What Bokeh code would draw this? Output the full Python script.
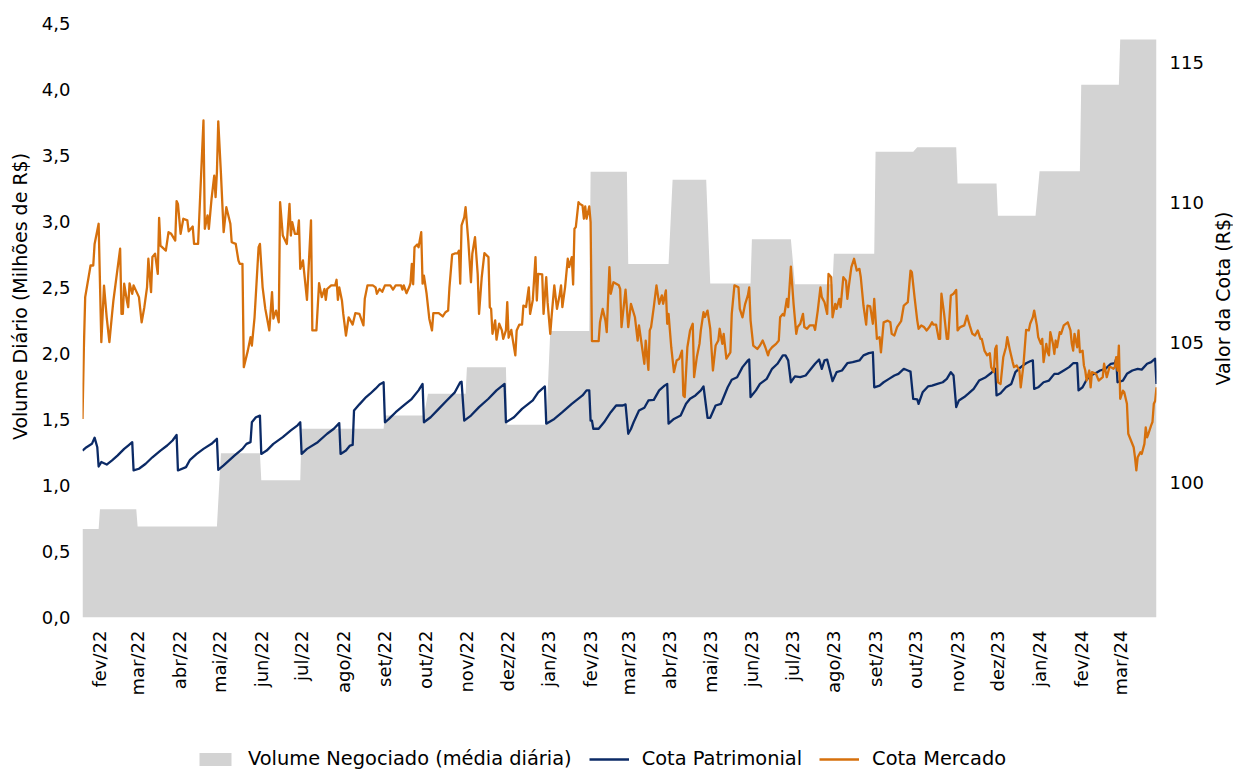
import math
import pandas as pd
from bokeh.plotting import figure
from bokeh.layouts import row, column
from bokeh.models import (Range1d, LinearAxis, FixedTicker, Legend, LegendItem,
                          ColumnDataSource, Label)
from bokeh.embed import file_html
from bokeh.resources import INLINE

FONT = "DejaVu Sans"
TXT = "#000000"
GRAY = "#d3d3d3"
NAVY = "#0b2a66"
ORANGE = "#d6700c"

# ---------------- data ----------------
# average daily traded volume per month (R$ millions)
vol_months = ["2022-01", "2022-02", "2022-03", "2022-04", "2022-05", "2022-06",
              "2022-07", "2022-08", "2022-09", "2022-10", "2022-11", "2022-12",
              "2023-01", "2023-02", "2023-03", "2023-04", "2023-05", "2023-06",
              "2023-07", "2023-08", "2023-09", "2023-10", "2023-11", "2023-12",
              "2024-01", "2024-02", "2024-03"]
vol_values = [0.67, 0.82, 0.69, 0.69, 1.245, 1.04,
              1.43, 1.43, 1.53, 1.695, 1.896, 1.46,
              2.17, 3.376, 2.677, 3.316, 2.53, 2.866,
              2.525, 2.755, 3.528, 3.563, 3.288, 3.043,
              3.381, 4.035, 4.379]

first_day = "2022-01-19"
last_day = "2024-03-28"

cota_patrimonial = [
    ("2022-01-19", 101.13), ("2022-01-22", 101.25), ("2022-01-26", 101.37), ("2022-01-28", 101.59),
    ("2022-01-30", 101.25), ("2022-01-31", 100.56), ("2022-02-02", 100.72), ("2022-02-06", 100.63),
    ("2022-02-10", 100.78), ("2022-02-14", 100.95), ("2022-02-19", 101.19), ("2022-02-22", 101.31),
    ("2022-02-25", 101.43), ("2022-02-26", 100.42), ("2022-03-02", 100.48), ("2022-03-07", 100.66),
    ("2022-03-12", 100.89), ("2022-03-18", 101.13), ("2022-03-23", 101.31), ("2022-03-27", 101.49),
    ("2022-03-30", 101.69), ("2022-03-31", 100.42), ("2022-04-06", 100.54), ("2022-04-09", 100.80),
    ("2022-04-14", 101.01), ("2022-04-19", 101.19), ("2022-04-25", 101.37), ("2022-04-29", 101.55),
    ("2022-04-30", 100.44), ("2022-05-04", 100.60), ("2022-05-12", 100.95), ("2022-05-18", 101.19),
    ("2022-05-21", 101.37), ("2022-05-24", 101.43), ("2022-05-25", 102.14), ("2022-05-28", 102.32),
    ("2022-05-31", 102.38), ("2022-06-01", 101.01), ("2022-06-05", 101.13), ("2022-06-10", 101.37),
    ("2022-06-17", 101.61), ("2022-06-23", 101.85), ("2022-06-28", 102.03), ("2022-06-30", 102.14),
    ("2022-07-01", 101.01), ("2022-07-05", 101.19), ("2022-07-13", 101.43), ("2022-07-20", 101.73),
    ("2022-07-25", 101.91), ("2022-07-29", 102.11), ("2022-07-30", 101.01), ("2022-08-03", 101.13),
    ("2022-08-06", 101.31), ("2022-08-08", 101.33), ("2022-08-09", 102.56), ("2022-08-13", 102.78),
    ("2022-08-18", 103.04), ("2022-08-21", 103.16), ("2022-08-25", 103.34), ("2022-08-28", 103.49),
    ("2022-08-31", 103.57), ("2022-09-01", 102.14), ("2022-09-04", 102.26), ("2022-09-09", 102.50),
    ("2022-09-15", 102.74), ("2022-09-21", 102.98), ("2022-09-26", 103.28), ("2022-09-29", 103.51),
    ("2022-09-30", 102.14), ("2022-10-05", 102.32), ("2022-10-11", 102.62), ("2022-10-17", 102.92),
    ("2022-10-23", 103.21), ("2022-10-27", 103.57), ("2022-10-28", 103.59), ("2022-10-30", 102.20),
    ("2022-11-04", 102.38), ("2022-11-10", 102.68), ("2022-11-17", 102.98), ("2022-11-23", 103.28),
    ("2022-11-29", 103.51), ("2022-11-30", 102.14), ("2022-12-06", 102.32), ("2022-12-12", 102.62),
    ("2022-12-20", 102.92), ("2022-12-24", 103.21), ("2022-12-29", 103.42), ("2022-12-30", 102.09),
    ("2023-01-05", 102.26), ("2023-01-11", 102.50), ("2023-01-18", 102.80), ("2023-01-26", 103.10),
    ("2023-01-29", 103.28), ("2023-01-31", 103.28), ("2023-02-01", 102.20), ("2023-02-02", 102.20),
    ("2023-02-03", 101.91), ("2023-02-07", 101.91), ("2023-02-11", 102.14), ("2023-02-16", 102.50),
    ("2023-02-20", 102.74), ("2023-02-25", 102.74), ("2023-02-27", 102.78), ("2023-03-01", 101.73),
    ("2023-03-03", 101.90), ("2023-03-05", 102.14), ("2023-03-09", 102.56), ("2023-03-13", 102.66),
    ("2023-03-16", 102.92), ("2023-03-20", 102.94), ("2023-03-24", 103.28), ("2023-03-28", 103.45),
    ("2023-03-30", 103.51), ("2023-03-31", 102.09), ("2023-04-04", 102.26), ("2023-04-09", 102.38),
    ("2023-04-13", 102.80), ("2023-04-16", 102.98), ("2023-04-20", 103.10), ("2023-04-24", 103.28),
    ("2023-04-26", 103.42), ("2023-04-29", 102.30), ("2023-05-01", 102.30), ("2023-05-05", 102.74),
    ("2023-05-09", 102.80), ("2023-05-14", 103.39), ("2023-05-17", 103.66), ("2023-05-21", 103.75),
    ("2023-05-25", 104.11), ("2023-05-29", 104.35), ("2023-05-30", 104.38), ("2023-05-31", 103.04),
    ("2023-06-04", 103.28), ("2023-06-07", 103.51), ("2023-06-12", 103.69), ("2023-06-16", 104.05),
    ("2023-06-20", 104.23), ("2023-06-24", 104.53), ("2023-06-26", 104.53), ("2023-06-28", 104.35),
    ("2023-06-30", 103.57), ("2023-07-03", 103.78), ("2023-07-07", 103.75), ("2023-07-11", 103.81),
    ("2023-07-15", 104.05), ("2023-07-18", 104.23), ("2023-07-21", 104.38), ("2023-07-23", 104.05),
    ("2023-07-25", 104.35), ("2023-07-27", 104.38), ("2023-07-31", 103.61), ("2023-08-03", 103.93),
    ("2023-08-07", 103.99), ("2023-08-11", 104.25), ("2023-08-15", 104.29), ("2023-08-20", 104.35),
    ("2023-08-23", 104.53), ("2023-08-27", 104.61), ("2023-08-30", 104.64), ("2023-08-31", 103.39),
    ("2023-09-04", 103.45), ("2023-09-07", 103.57), ("2023-09-11", 103.69), ("2023-09-15", 103.81),
    ("2023-09-18", 103.87), ("2023-09-22", 104.05), ("2023-09-25", 103.99), ("2023-09-27", 103.95),
    ("2023-09-29", 102.98), ("2023-10-02", 102.96), ("2023-10-03", 102.80), ("2023-10-06", 103.21),
    ("2023-10-10", 103.42), ("2023-10-13", 103.45), ("2023-10-17", 103.51), ("2023-10-21", 103.57),
    ("2023-10-24", 103.69), ("2023-10-27", 103.93), ("2023-10-29", 103.81), ("2023-10-31", 102.68),
    ("2023-11-02", 102.92), ("2023-11-06", 103.04), ("2023-11-09", 103.16), ("2023-11-13", 103.33),
    ("2023-11-17", 103.63), ("2023-11-22", 103.75), ("2023-11-26", 103.90), ("2023-11-29", 104.05),
    ("2023-11-30", 103.10), ("2023-12-03", 103.18), ("2023-12-07", 103.39), ("2023-12-11", 103.51),
    ("2023-12-14", 103.93), ("2023-12-18", 104.11), ("2023-12-22", 104.25), ("2023-12-25", 104.32),
    ("2023-12-27", 104.35), ("2023-12-28", 103.33), ("2023-12-31", 103.39), ("2024-01-04", 103.57),
    ("2024-01-08", 103.63), ("2024-01-12", 103.87), ("2024-01-15", 103.87), ("2024-01-19", 103.99),
    ("2024-01-23", 104.11), ("2024-01-26", 104.25), ("2024-01-29", 104.25), ("2024-01-30", 103.28),
    ("2024-02-02", 103.39), ("2024-02-05", 103.66), ("2024-02-08", 103.81), ("2024-02-12", 103.90),
    ("2024-02-15", 103.99), ("2024-02-19", 104.05), ("2024-02-23", 104.23), ("2024-02-26", 104.25),
    ("2024-02-27", 104.41), ("2024-02-28", 103.57), ("2024-03-03", 103.63), ("2024-03-06", 103.87),
    ("2024-03-10", 103.99), ("2024-03-14", 104.05), ("2024-03-17", 104.02), ("2024-03-21", 104.23),
    ("2024-03-24", 104.29), ("2024-03-27", 104.41), ("2024-03-28", 103.51),
]

cota_mercado = [
    ("2022-01-19", 102.26), ("2022-01-20", 104.76), ("2022-01-21", 106.61), ("2022-01-25", 107.74),
    ("2022-01-27", 107.74), ("2022-01-28", 108.51), ("2022-01-31", 109.23), ("2022-02-02", 105.00),
    ("2022-02-04", 107.02), ("2022-02-06", 105.89), ("2022-02-08", 105.00), ("2022-02-10", 106.01),
    ("2022-02-11", 106.49), ("2022-02-16", 108.34), ("2022-02-17", 106.01), ("2022-02-18", 106.01),
    ("2022-02-19", 107.09), ("2022-02-21", 106.49), ("2022-02-22", 106.25), ("2022-02-23", 107.10),
    ("2022-02-25", 106.73), ("2022-02-26", 107.03), ("2022-03-02", 106.61), ("2022-03-04", 105.71),
    ("2022-03-06", 106.25), ("2022-03-08", 106.96), ("2022-03-09", 107.98), ("2022-03-11", 106.79),
    ("2022-03-12", 108.04), ("2022-03-14", 108.16), ("2022-03-16", 107.44), ("2022-03-17", 109.44),
    ("2022-03-18", 108.45), ("2022-03-22", 108.27), ("2022-03-24", 108.93), ("2022-03-26", 108.87),
    ("2022-03-29", 108.63), ("2022-03-30", 110.04), ("2022-03-31", 109.94), ("2022-04-02", 108.87),
    ("2022-04-04", 109.41), ("2022-04-07", 109.35), ("2022-04-08", 108.96), ("2022-04-11", 109.13),
    ("2022-04-12", 108.51), ("2022-04-15", 108.51), ("2022-04-19", 112.92), ("2022-04-20", 109.05),
    ("2022-04-22", 109.53), ("2022-04-23", 109.05), ("2022-04-25", 110.12), ("2022-04-27", 110.95),
    ("2022-04-28", 110.18), ("2022-04-29", 111.07), ("2022-04-30", 112.89), ("2022-05-02", 111.01),
    ("2022-05-04", 108.93), ("2022-05-06", 109.82), ("2022-05-09", 109.23), ("2022-05-10", 108.57),
    ("2022-05-13", 108.51), ("2022-05-15", 107.92), ("2022-05-16", 107.80), ("2022-05-18", 107.80),
    ("2022-05-19", 104.11), ("2022-05-22", 104.70), ("2022-05-24", 105.18), ("2022-05-25", 104.88),
    ("2022-05-27", 105.89), ("2022-05-30", 108.39), ("2022-05-31", 108.51), ("2022-06-02", 106.96),
    ("2022-06-04", 106.19), ("2022-06-07", 105.42), ("2022-06-09", 106.79), ("2022-06-10", 105.84),
    ("2022-06-12", 106.13), ("2022-06-14", 105.71), ("2022-06-15", 110.00), ("2022-06-17", 108.81),
    ("2022-06-20", 108.51), ("2022-06-22", 109.94), ("2022-06-23", 108.81), ("2022-06-24", 109.29),
    ("2022-06-26", 108.87), ("2022-06-28", 108.87), ("2022-06-29", 109.35), ("2022-06-30", 107.62),
    ("2022-07-02", 107.92), ("2022-07-05", 106.51), ("2022-07-08", 109.35), ("2022-07-09", 105.42),
    ("2022-07-12", 105.42), ("2022-07-14", 107.11), ("2022-07-16", 106.61), ("2022-07-18", 106.90),
    ("2022-07-19", 106.51), ("2022-07-20", 106.90), ("2022-07-23", 107.03), ("2022-07-26", 107.03),
    ("2022-07-27", 107.23), ("2022-07-28", 106.51), ("2022-07-29", 106.96), ("2022-07-31", 106.49),
    ("2022-08-01", 106.01), ("2022-08-03", 105.24), ("2022-08-05", 105.89), ("2022-08-08", 105.63),
    ("2022-08-10", 106.04), ("2022-08-13", 106.01), ("2022-08-16", 105.60), ("2022-08-17", 106.55),
    ("2022-08-19", 107.03), ("2022-08-23", 107.03), ("2022-08-25", 106.96), ("2022-08-26", 106.73),
    ("2022-08-28", 106.90), ("2022-08-30", 106.80), ("2022-09-01", 107.03), ("2022-09-05", 107.03),
    ("2022-09-07", 106.88), ("2022-09-09", 107.03), ("2022-09-13", 107.03), ("2022-09-14", 106.88),
    ("2022-09-15", 107.03), ("2022-09-17", 106.75), ("2022-09-19", 106.96), ("2022-09-20", 107.11),
    ("2022-09-21", 107.80), ("2022-09-22", 107.07), ("2022-09-23", 108.39), ("2022-09-25", 108.49),
    ("2022-09-26", 108.39), ("2022-09-28", 108.93), ("2022-09-29", 107.09), ("2022-09-30", 107.38),
    ("2022-10-02", 106.73), ("2022-10-04", 105.84), ("2022-10-06", 105.42), ("2022-10-07", 106.04),
    ("2022-10-11", 106.04), ("2022-10-14", 105.92), ("2022-10-16", 106.07), ("2022-10-18", 106.13),
    ("2022-10-19", 106.96), ("2022-10-21", 108.13), ("2022-10-23", 108.17), ("2022-10-25", 108.17),
    ("2022-10-26", 108.27), ("2022-10-27", 107.09), ("2022-10-28", 109.17), ("2022-10-30", 109.46),
    ("2022-10-31", 109.82), ("2022-11-02", 108.63), ("2022-11-04", 107.14), ("2022-11-05", 108.16),
    ("2022-11-07", 108.75), ("2022-11-09", 107.44), ("2022-11-10", 106.01), ("2022-11-12", 107.32),
    ("2022-11-14", 108.18), ("2022-11-17", 108.04), ("2022-11-18", 106.25), ("2022-11-19", 106.19),
    ("2022-11-20", 105.30), ("2022-11-22", 105.78), ("2022-11-23", 105.09), ("2022-11-25", 105.66),
    ("2022-11-27", 105.42), ("2022-11-28", 105.12), ("2022-11-30", 105.42), ("2022-12-01", 106.43),
    ("2022-12-02", 105.16), ("2022-12-04", 105.44), ("2022-12-05", 105.12), ("2022-12-07", 104.53),
    ("2022-12-08", 105.42), ("2022-12-10", 105.63), ("2022-12-12", 105.63), ("2022-12-13", 106.31),
    ("2022-12-15", 106.26), ("2022-12-17", 106.96), ("2022-12-18", 106.01), ("2022-12-20", 106.51),
    ("2022-12-22", 108.04), ("2022-12-23", 106.49), ("2022-12-24", 107.44), ("2022-12-27", 107.42),
    ("2022-12-28", 106.01), ("2022-12-30", 107.32), ("2022-12-31", 106.43), ("2023-01-02", 105.30),
    ("2023-01-03", 105.92), ("2023-01-05", 107.03), ("2023-01-07", 106.19), ("2023-01-09", 106.70),
    ("2023-01-10", 107.03), ("2023-01-11", 106.25), ("2023-01-13", 106.96), ("2023-01-15", 107.98),
    ("2023-01-16", 107.68), ("2023-01-18", 108.04), ("2023-01-19", 107.06), ("2023-01-20", 109.05),
    ("2023-01-21", 109.11), ("2023-01-23", 110.00), ("2023-01-24", 109.94), ("2023-01-26", 109.88),
    ("2023-01-27", 109.41), ("2023-01-28", 109.85), ("2023-01-29", 109.41), ("2023-01-31", 109.85),
    ("2023-02-01", 109.29), ("2023-02-02", 105.04), ("2023-02-07", 105.04), ("2023-02-08", 105.71),
    ("2023-02-10", 106.19), ("2023-02-12", 105.78), ("2023-02-13", 105.36), ("2023-02-15", 107.68),
    ("2023-02-16", 106.73), ("2023-02-18", 107.14), ("2023-02-22", 107.03), ("2023-02-23", 106.90),
    ("2023-02-24", 105.54), ("2023-02-27", 106.88), ("2023-03-01", 105.54), ("2023-03-03", 106.37),
    ("2023-03-06", 105.89), ("2023-03-08", 105.06), ("2023-03-09", 105.60), ("2023-03-13", 104.23),
    ("2023-03-14", 105.06), ("2023-03-16", 104.01), ("2023-03-17", 105.42), ("2023-03-18", 105.54),
    ("2023-03-20", 106.25), ("2023-03-22", 107.03), ("2023-03-24", 106.37), ("2023-03-26", 106.67),
    ("2023-03-27", 106.37), ("2023-03-29", 106.85), ("2023-03-30", 105.66), ("2023-03-31", 106.01),
    ("2023-04-02", 104.82), ("2023-04-04", 103.93), ("2023-04-06", 104.35), ("2023-04-08", 104.41),
    ("2023-04-10", 104.70), ("2023-04-11", 103.10), ("2023-04-12", 103.04), ("2023-04-14", 104.82),
    ("2023-04-16", 105.42), ("2023-04-18", 105.66), ("2023-04-19", 103.75), ("2023-04-21", 104.46),
    ("2023-04-23", 104.94), ("2023-04-24", 105.42), ("2023-04-26", 106.07), ("2023-04-27", 105.90),
    ("2023-04-29", 106.13), ("2023-05-01", 105.48), ("2023-05-03", 103.99), ("2023-05-05", 104.88),
    ("2023-05-07", 105.06), ("2023-05-08", 105.48), ("2023-05-10", 104.94), ("2023-05-11", 105.30),
    ("2023-05-13", 104.41), ("2023-05-16", 104.64), ("2023-05-17", 106.01), ("2023-05-19", 107.03),
    ("2023-05-22", 106.96), ("2023-05-23", 106.19), ("2023-05-25", 105.89), ("2023-05-27", 106.37),
    ("2023-05-29", 106.67), ("2023-05-30", 106.96), ("2023-05-31", 105.78), ("2023-06-02", 104.88),
    ("2023-06-05", 104.76), ("2023-06-07", 104.88), ("2023-06-09", 105.06), ("2023-06-11", 104.82),
    ("2023-06-13", 104.53), ("2023-06-14", 104.70), ("2023-06-16", 104.82), ("2023-06-19", 104.94),
    ("2023-06-21", 105.06), ("2023-06-22", 105.89), ("2023-06-24", 106.01), ("2023-06-25", 105.95),
    ("2023-06-27", 106.55), ("2023-06-28", 106.25), ("2023-06-30", 107.70), ("2023-07-02", 106.37),
    ("2023-07-04", 105.30), ("2023-07-05", 105.54), ("2023-07-07", 105.66), ("2023-07-09", 106.01),
    ("2023-07-10", 105.54), ("2023-07-12", 105.48), ("2023-07-14", 105.60), ("2023-07-17", 105.60),
    ("2023-07-18", 105.44), ("2023-07-20", 106.13), ("2023-07-22", 106.96), ("2023-07-23", 106.61),
    ("2023-07-25", 106.43), ("2023-07-27", 106.01), ("2023-07-28", 107.44), ("2023-07-30", 107.32),
    ("2023-07-31", 105.89), ("2023-08-02", 106.37), ("2023-08-03", 106.19), ("2023-08-05", 106.55),
    ("2023-08-06", 106.25), ("2023-08-08", 107.32), ("2023-08-10", 107.20), ("2023-08-11", 106.55),
    ("2023-08-12", 106.96), ("2023-08-14", 107.68), ("2023-08-16", 107.98), ("2023-08-18", 107.56),
    ("2023-08-20", 107.62), ("2023-08-21", 107.32), ("2023-08-23", 106.31), ("2023-08-25", 105.63),
    ("2023-08-26", 106.31), ("2023-08-28", 106.28), ("2023-08-30", 105.66), ("2023-08-31", 106.55),
    ("2023-09-02", 105.12), ("2023-09-04", 105.18), ("2023-09-05", 104.64), ("2023-09-07", 105.71),
    ("2023-09-10", 105.77), ("2023-09-12", 105.71), ("2023-09-13", 105.30), ("2023-09-15", 105.24),
    ("2023-09-17", 105.54), ("2023-09-20", 105.75), ("2023-09-22", 106.31), ("2023-09-25", 106.43),
    ("2023-09-27", 107.56), ("2023-09-28", 107.50), ("2023-09-30", 106.61), ("2023-10-02", 105.78),
    ("2023-10-03", 105.48), ("2023-10-05", 105.60), ("2023-10-07", 105.54), ("2023-10-09", 105.42),
    ("2023-10-11", 105.54), ("2023-10-13", 105.71), ("2023-10-14", 105.63), ("2023-10-16", 105.63),
    ("2023-10-18", 105.12), ("2023-10-19", 105.12), ("2023-10-20", 106.73), ("2023-10-22", 106.01),
    ("2023-10-24", 105.12), ("2023-10-25", 105.12), ("2023-10-27", 106.67), ("2023-10-29", 106.73),
    ("2023-10-31", 106.87), ("2023-11-01", 105.42), ("2023-11-03", 105.54), ("2023-11-06", 105.60),
    ("2023-11-08", 105.95), ("2023-11-10", 105.60), ("2023-11-12", 105.30), ("2023-11-14", 105.24),
    ("2023-11-16", 105.42), ("2023-11-18", 105.12), ("2023-11-19", 105.12), ("2023-11-21", 104.70),
    ("2023-11-23", 104.53), ("2023-11-25", 104.61), ("2023-11-26", 104.11), ("2023-11-28", 103.93),
    ("2023-11-29", 104.76), ("2023-11-30", 104.88), ("2023-12-01", 103.57), ("2023-12-03", 103.51),
    ("2023-12-05", 104.46), ("2023-12-07", 104.82), ("2023-12-08", 105.18), ("2023-12-10", 104.70),
    ("2023-12-12", 104.29), ("2023-12-13", 104.11), ("2023-12-15", 104.17), ("2023-12-17", 103.99),
    ("2023-12-18", 103.39), ("2023-12-20", 104.17), ("2023-12-22", 105.44), ("2023-12-24", 105.42),
    ("2023-12-25", 105.66), ("2023-12-27", 105.89), ("2023-12-28", 106.13), ("2023-12-30", 105.60),
    ("2023-12-31", 105.18), ("2024-01-02", 104.94), ("2024-01-03", 105.12), ("2024-01-04", 104.29),
    ("2024-01-06", 104.94), ("2024-01-07", 104.64), ("2024-01-08", 104.53), ("2024-01-09", 105.36),
    ("2024-01-11", 104.94), ("2024-01-12", 104.58), ("2024-01-13", 105.06), ("2024-01-14", 104.82),
    ("2024-01-16", 105.36), ("2024-01-17", 105.30), ("2024-01-19", 105.60), ("2024-01-22", 105.71),
    ("2024-01-24", 105.42), ("2024-01-25", 104.94), ("2024-01-26", 104.70), ("2024-01-27", 105.30),
    ("2024-01-29", 104.82), ("2024-01-30", 105.42), ("2024-01-31", 104.64), ("2024-02-02", 104.70),
    ("2024-02-03", 104.17), ("2024-02-04", 103.99), ("2024-02-05", 103.63), ("2024-02-07", 103.99),
    ("2024-02-08", 103.39), ("2024-02-09", 103.93), ("2024-02-12", 103.87), ("2024-02-14", 103.63),
    ("2024-02-17", 103.75), ("2024-02-18", 104.23), ("2024-02-20", 103.75), ("2024-02-22", 104.11),
    ("2024-02-23", 104.11), ("2024-02-25", 104.05), ("2024-02-26", 104.11), ("2024-02-27", 104.47),
    ("2024-02-28", 103.99), ("2024-02-29", 104.88), ("2024-03-01", 102.98), ("2024-03-03", 103.27),
    ("2024-03-04", 103.21), ("2024-03-06", 102.80), ("2024-03-07", 101.73), ("2024-03-09", 101.49),
    ("2024-03-11", 101.25), ("2024-03-12", 100.89), ("2024-03-13", 100.42), ("2024-03-14", 100.89),
    ("2024-03-16", 101.07), ("2024-03-17", 101.01), ("2024-03-19", 101.37), ("2024-03-20", 101.96),
    ("2024-03-21", 101.60), ("2024-03-22", 101.73), ("2024-03-24", 102.03), ("2024-03-25", 102.15),
    ("2024-03-26", 102.80), ("2024-03-27", 102.90), ("2024-03-28", 103.39),
]

x_tick_dates = ["2022-02-01", "2022-03-01", "2022-04-01", "2022-05-01", "2022-06-01",
                "2022-07-01", "2022-08-01", "2022-09-01", "2022-10-01", "2022-11-01",
                "2022-12-01", "2023-01-01", "2023-02-01", "2023-03-01", "2023-04-01",
                "2023-05-01", "2023-06-01", "2023-07-01", "2023-08-01", "2023-09-01",
                "2023-10-01", "2023-11-01", "2023-12-01", "2024-01-01", "2024-02-01",
                "2024-03-01"]
x_tick_labels = ["fev/22", "mar/22", "abr/22", "mai/22", "jun/22", "jul/22", "ago/22",
                 "set/22", "out/22", "nov/22", "dez/22", "jan/23", "fev/23", "mar/23",
                 "abr/23", "mai/23", "jun/23", "jul/23", "ago/23", "set/23", "out/23",
                 "nov/23", "dez/23", "jan/24", "fev/24", "mar/24"]
left_ticks = [0.0, 0.5, 1.0, 1.5, 2.0, 2.5, 3.0, 3.5, 4.0, 4.5]
left_tick_labels = ["0,0", "0,5", "1,0", "1,5", "2,0", "2,5", "3,0", "3,5", "4,0", "4,5"]
right_ticks = [100, 105, 110, 115]

left_title = "Volume Diário (Milhões de R$)"
right_title = "Valor da Cota (R$)"
legend_labels = ["Volume Negociado (média diária)", "Cota Patrimonial", "Cota Mercado"]

# ---------------- sources ----------------
days = pd.bdate_range(first_day, last_day)
vol_by_month = dict(zip(vol_months, vol_values))
vol_src = ColumnDataSource(dict(x=days, y=[vol_by_month[d.strftime("%Y-%m")] for d in days]))


def series_source(pairs):
    return ColumnDataSource(dict(x=pd.to_datetime([d for d, _ in pairs]),
                                 y=[v for _, v in pairs]))


patr_src = series_source(cota_patrimonial)
merc_src = series_source(cota_mercado)

# ---------------- layout geometry (page pixels) ----------------
PAGE_W, PAGE_H = 1233, 773
LEFT_STRIP_W = 34          # holds the left axis title
RIGHT_STRIP_W = 23         # holds the right axis title
MAIN_W = PAGE_W - LEFT_STRIP_W - RIGHT_STRIP_W
MAIN_H = 740
LEGEND_H = PAGE_H - MAIN_H
FRAME_LEFT, FRAME_RIGHT, FRAME_BOTTOM = 82, 1156, 617
LEGEND_LEFT = 195

# visible window of the axes (the original figure is cropped at the top)
LEFT_RANGE = (0, 4.674)
RIGHT_RANGE = (95.168, 117.204)


def bare_figure(w, h):
    f = figure(width=w, height=h, x_range=Range1d(0, 1), y_range=Range1d(0, 1),
               x_axis_location=None, y_axis_location=None,
               output_backend="svg", toolbar_location=None,
               min_border=0, min_border_left=0, min_border_right=0,
               min_border_top=0, min_border_bottom=0)
    f.outline_line_color = None
    f.grid.visible = False
    f.background_fill_color = "white"
    f.border_fill_color = "white"
    return f


# ---------------- main chart ----------------
p = figure(width=MAIN_W, height=MAIN_H, x_axis_type="datetime",
           x_range=Range1d(pd.Timestamp(first_day), pd.Timestamp(last_day)),
           y_range=Range1d(*LEFT_RANGE),
           output_backend="svg", toolbar_location=None,
           min_border_left=FRAME_LEFT - LEFT_STRIP_W,
           min_border_right=LEFT_STRIP_W + MAIN_W - FRAME_RIGHT,
           min_border_top=0,
           min_border_bottom=MAIN_H - FRAME_BOTTOM)
p.extra_y_ranges = {"cota": Range1d(*RIGHT_RANGE)}
p.outline_line_color = None
p.xgrid.visible = False
p.ygrid.visible = False
p.background_fill_color = "white"
p.border_fill_color = "white"

AREA_STYLE = dict(fill_color=GRAY)
PATR_STYLE = dict(line_color=NAVY, line_width=2.3, line_join="round")
MERC_STYLE = dict(line_color=ORANGE, line_width=2.3, line_join="round")

p.varea(x="x", y1=0, y2="y", source=vol_src, **AREA_STYLE)
p.line("x", "y", source=patr_src, y_range_name="cota", **PATR_STYLE)
p.line("x", "y", source=merc_src, y_range_name="cota", **MERC_STYLE)


def style_axis(ax):
    ax.axis_line_color = None
    ax.major_tick_line_color = None
    ax.minor_tick_line_color = None
    ax.major_tick_out = 0
    ax.major_tick_in = 0
    ax.minor_tick_out = 0
    ax.minor_tick_in = 0
    ax.major_label_text_font = FONT
    ax.major_label_text_font_size = "18px"
    ax.major_label_text_color = TXT


xax = p.xaxis[0]
style_axis(xax)
x_ms = [pd.Timestamp(d).value / 1e6 for d in x_tick_dates]
xax.ticker = FixedTicker(ticks=x_ms)
xax.major_label_overrides = {t: lbl for t, lbl in zip(x_ms, x_tick_labels)}
xax.major_label_orientation = math.pi / 2
xax.major_label_standoff = 13

yax = p.yaxis[0]
style_axis(yax)
yax.ticker = FixedTicker(ticks=left_ticks)
yax.major_label_overrides = {t: lbl for t, lbl in zip(left_ticks, left_tick_labels)}
yax.major_label_standoff = 12

rax = LinearAxis(y_range_name="cota", ticker=FixedTicker(ticks=right_ticks))
style_axis(rax)
rax.major_label_standoff = 13
p.add_layout(rax, "right")

# ---------------- axis titles (rotated, reading upwards) ----------------
left_strip = bare_figure(LEFT_STRIP_W, PAGE_H)
left_strip.add_layout(Label(x=19, y=PAGE_H - 296, x_units="screen", y_units="screen",
                            text=left_title, angle=math.pi / 2,
                            text_align="center", text_baseline="middle",
                            text_font=FONT, text_font_size="19px", text_color=TXT))

right_strip = bare_figure(RIGHT_STRIP_W, PAGE_H)
right_strip.add_layout(Label(x=1222 - (PAGE_W - RIGHT_STRIP_W), y=PAGE_H - 298,
                             x_units="screen", y_units="screen",
                             text=right_title, angle=math.pi / 2,
                             text_align="center", text_baseline="middle",
                             text_font=FONT, text_font_size="19px", text_color=TXT))

# ---------------- legend strip ----------------
# The strip's own ranges never reach the series values, so these renderers only
# lend their styles to the legend swatches.
leg_fig = bare_figure(MAIN_W, LEGEND_H)
g_area = leg_fig.varea(x="x", y1=0, y2="y", source=vol_src, **AREA_STYLE)
g_patr = leg_fig.line("x", "y", source=patr_src, **PATR_STYLE)
g_merc = leg_fig.line("x", "y", source=merc_src, **MERC_STYLE)
legend = Legend(items=[
    LegendItem(label=legend_labels[0], renderers=[g_area]),
    LegendItem(label=legend_labels[1], renderers=[g_patr]),
    LegendItem(label=legend_labels[2], renderers=[g_merc]),
], location=(LEGEND_LEFT - FRAME_LEFT, 3), orientation="horizontal")
legend.border_line_color = None
legend.background_fill_alpha = 0
legend.padding = 0
legend.margin = 0
legend.spacing = 17
legend.glyph_width = 40
legend.glyph_height = 16
legend.label_standoff = 13
legend.label_text_font = FONT
legend.label_text_font_size = "19.4px"
legend.label_text_color = TXT
leg_fig.add_layout(legend)

layout = row(left_strip, column(p, leg_fig, spacing=0), right_strip, spacing=0)

open("out.html", "w").write(file_html(layout, INLINE))
